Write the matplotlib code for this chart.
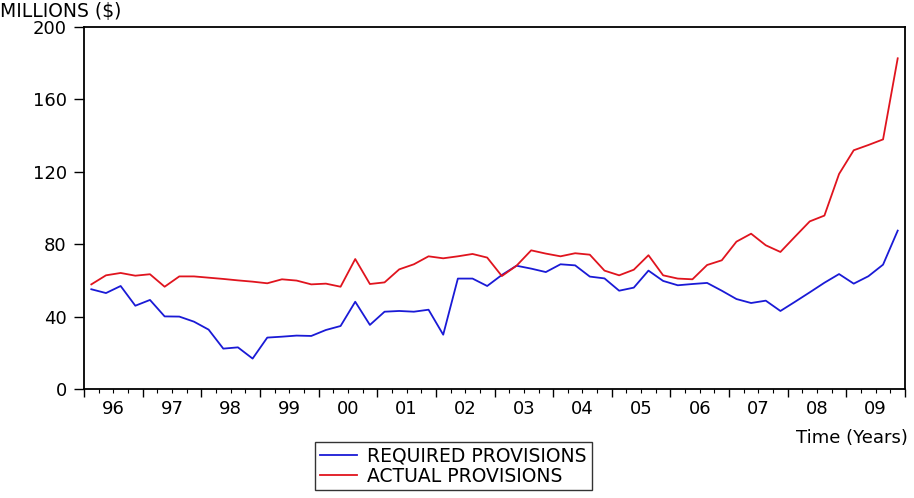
import numpy as np
import matplotlib
matplotlib.use('Agg')
import matplotlib.pyplot as plt
from matplotlib.ticker import FixedLocator, FuncFormatter

# quarterly series, 1996Q1 .. 2009Q4 (millions of $)
required = [55.1, 53.0, 56.9, 46.0, 49.2, 40.1, 40.0, 37.2, 32.8, 22.3,
            23.0, 16.8, 28.4, 28.9, 29.5, 29.3, 32.6, 34.8, 48.2, 35.4,
            42.7, 43.1, 42.7, 43.8, 30.0, 61.0, 61.0, 56.9, 63.0, 68.1,
            66.5, 64.6, 68.9, 68.3, 62.1, 61.1, 54.3, 56.0, 65.4, 59.7,
            57.3, 58.0, 58.6, 54.3, 49.7, 47.5, 48.8, 43.1, 48.2, 53.4,
            58.7, 63.5, 58.2, 62.3, 68.7, 87.5]
actual = [57.8, 62.8, 64.1, 62.6, 63.4, 56.5, 62.2, 62.2, 61.5, 60.8,
          60.0, 59.3, 58.4, 60.6, 59.9, 57.8, 58.2, 56.5, 71.8, 58.0,
          58.9, 66.1, 68.9, 73.3, 72.2, 73.3, 74.6, 72.6, 62.4, 68.1,
          76.6, 74.8, 73.3, 75.0, 74.2, 65.4, 62.8, 65.9, 73.9, 62.8,
          61.0, 60.6, 68.5, 71.1, 81.4, 85.8, 79.4, 75.7, 84.2, 92.6,
          95.8, 118.8, 131.9, 134.8, 137.9, 182.7]
years = list(range(1996, 2010))
year_labels = ['96', '97', '98', '99', '00', '01', '02', '03', '04', '05',
               '06', '07', '08', '09']

plt.rcParams['font.family'] = ['DejaVu Sans']

t = years[0] + (np.arange(len(required)) + 0.5) / 4.0

fig = plt.figure(figsize=(9.14, 4.98), dpi=100)
ax = fig.add_axes([0.0919, 0.2189, 0.8983, 0.7269])

ax.plot(t, required, color='#1a1ad6', lw=1.3, label='REQUIRED PROVISIONS')
ax.plot(t, actual, color='#e0141e', lw=1.3, label='ACTUAL PROVISIONS')

ax.set_xlim(years[0], years[-1] + 1)
ax.set_ylim(0, 200)
ax.set_yticks([0, 40, 80, 120, 160, 200])

# major ticks at year boundaries, minor at quarters, labels mid-year
ax.xaxis.set_major_locator(FixedLocator(years + [years[-1] + 1]))
ax.xaxis.set_major_formatter(FuncFormatter(lambda v, p: ''))
quarters = [y + q / 4.0 for y in years for q in (1, 2, 3)]
ax.xaxis.set_minor_locator(FixedLocator(quarters))
lab = {y + 0.5: s for y, s in zip(years, year_labels)}
ax.xaxis.set_minor_formatter(FuncFormatter(lambda v, p: lab.get(round(v, 2), '')))

ax.tick_params(axis='x', which='major', direction='out', length=5.8, width=1.0)
ax.tick_params(axis='x', which='minor', direction='out', length=3, width=0.8,
               labelsize=13, pad=5)
ax.tick_params(axis='y', direction='out', length=7, width=1.0,
               labelsize=13, pad=5.5)
ax.tick_params(right=False, top=False)

for s in ax.spines.values():
    s.set_linewidth(1.3)
    s.set_color('black')

fig.text(0.0, 0.976, 'MILLIONS ($)', fontsize=13.5, ha='left', va='center')
fig.text(0.993, 0.1205, 'Time (Years)', fontsize=13, ha='right', va='center')

leg = fig.legend(loc='upper left', bbox_to_anchor=(0.3446, 0.1124),
                 frameon=True, fancybox=False, fontsize=13.5,
                 handlelength=2.0, handletextpad=0.55, borderpad=0.25,
                 labelspacing=0.05, borderaxespad=0.0)
leg.get_frame().set_edgecolor('black')
leg.get_frame().set_linewidth(1.0)

fig.savefig('out.png', dpi=100)
